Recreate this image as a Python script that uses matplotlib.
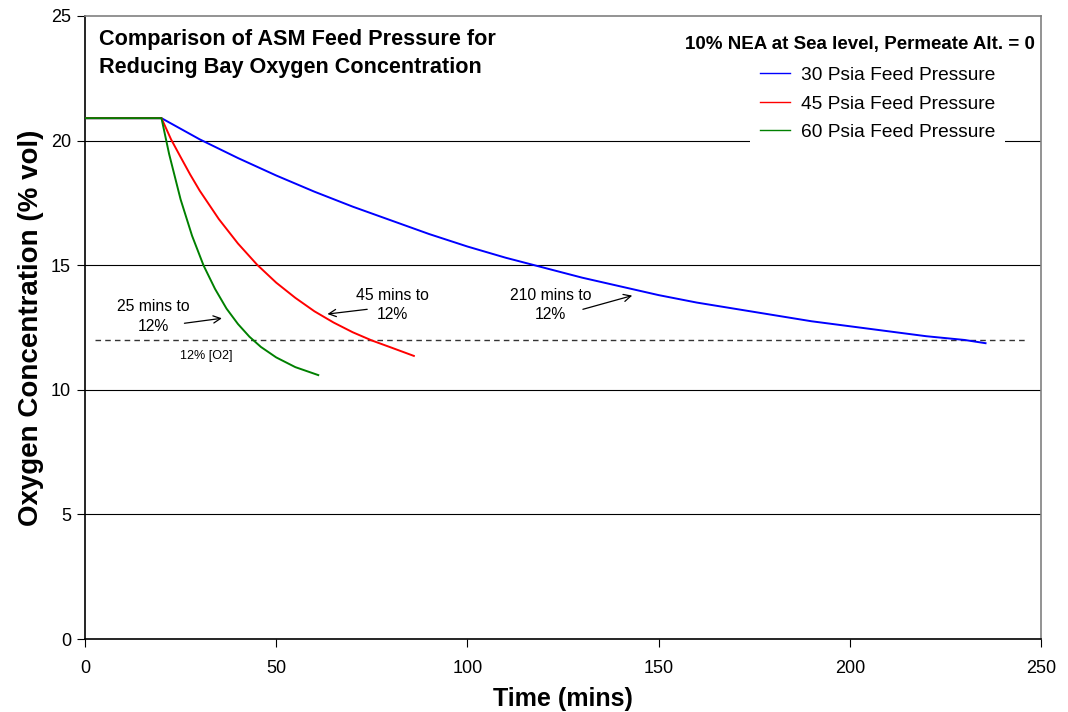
import matplotlib
matplotlib.use("Agg")
import matplotlib.pyplot as plt

plt.rcParams['font.family'] = ['Liberation Sans', 'DejaVu Sans']

# ---- data ----
t_blue = [0, 20, 30, 40, 50, 60, 70, 80, 90, 100, 110, 120, 130, 140, 150,
          160, 170, 180, 190, 200, 210, 220, 230, 235.5]
o2_blue = [20.9, 20.9, 20.05, 19.3, 18.6, 17.95, 17.35, 16.8, 16.25, 15.75, 15.3,
           14.9, 14.5, 14.15, 13.8, 13.5, 13.25, 13.0, 12.75, 12.55, 12.35, 12.15,
           12.0, 11.87]
t_red = [0, 20, 22.5, 25, 27.5, 30, 35, 40, 45, 50, 55, 60, 65, 70, 75, 80, 86]
o2_red = [20.9, 20.9, 20.05, 19.34, 18.64, 17.99, 16.85, 15.87, 15.02, 14.30,
          13.69, 13.15, 12.70, 12.31, 11.98, 11.70, 11.36]
t_green = [0, 20, 22, 25, 28, 31, 34, 37, 40, 43, 46, 50, 55, 61]
o2_green = [20.9, 20.9, 19.46, 17.64, 16.18, 14.99, 14.05, 13.26, 12.64, 12.13,
            11.72, 11.30, 10.91, 10.59]
target_o2 = 12
target_x = [2.5, 246]

series_labels = ['30 Psia Feed Pressure', '45 Psia Feed Pressure', '60 Psia Feed Pressure']
series_colors = ['#0000FF', '#FF0000', '#008000']

x_ticks = [0, 50, 100, 150, 200, 250]
y_ticks = [0, 5, 10, 15, 20, 25]

annotations = [
    # text, text position, arrow tail, arrow head
    ("25 mins to\n12%", (17.8, 12.93), (26.0, 12.67), (35.8, 12.87)),
    ("45 mins to\n12%", (80.5, 13.40), (73.8, 13.23), (63.4, 13.04)),
    ("210 mins to\n12%", (121.8, 13.40), (130.2, 13.23), (143.1, 13.78)),
]

# ---- figure ----
W, H = 1068, 712
AX_L, AX_R, AX_T, AX_B = 85, 1041, 16, 639
fig = plt.figure(figsize=(W / 100, H / 100), dpi=100)
ax = fig.add_axes([AX_L / W, 1 - AX_B / H, (AX_R - AX_L) / W, (AX_B - AX_T) / H])

ax.set_xlim(0, 250)
ax.set_ylim(0, 25)


def fy(py):
    """pixel row -> axes fraction"""
    return (AX_B - py) / (AX_B - AX_T)


def fx(px):
    return (px - AX_L) / (AX_R - AX_L)


for yv in y_ticks[1:-1]:
    ax.axhline(yv, color='black', lw=0.8, zorder=1)

ax.plot(target_x, [target_o2, target_o2], color='#333333', lw=1.0,
        dashes=(4, 3), zorder=2)

lines = []
for tx, ty, lab, col in zip([t_blue, t_red, t_green], [o2_blue, o2_red, o2_green],
                            series_labels, series_colors):
    ln, = ax.plot(tx, ty, color=col, lw=1.4, label=lab, zorder=3)
    lines.append(ln)

for txt, pos, tail, head in annotations:
    ax.text(pos[0], pos[1], txt, ha='center', va='center', fontsize=11.3,
            linespacing=1.4, zorder=4)
    ax.annotate('', xy=head, xytext=tail,
                arrowprops=dict(arrowstyle='->', color='black', lw=0.9,
                                shrinkA=0, shrinkB=0, mutation_scale=13), zorder=4)

ax.text(31.8, 11.37, "12% [O2]", ha='center', va='center', fontsize=9)

# chart title inside plot
ax.text(fx(99), fy(40), "Comparison of ASM Feed Pressure for",
        transform=ax.transAxes, fontsize=15.6, fontweight='bold',
        ha='left', va='center', zorder=6)
ax.text(fx(99), fy(68), "Reducing Bay Oxygen Concentration",
        transform=ax.transAxes, fontsize=15.6, fontweight='bold',
        ha='left', va='center', zorder=6)

ax.text(fx(1035), fy(44), "10% NEA at Sea level, Permeate Alt. = 0",
        transform=ax.transAxes, fontsize=13.5, fontweight='bold',
        ha='right', va='center', zorder=6)

leg = ax.legend(handles=lines, loc='upper left',
                bbox_to_anchor=(fx(750), fy(57)),
                frameon=True, facecolor='white', edgecolor='none', framealpha=1,
                fancybox=False, fontsize=13.8, handlelength=1.6, handletextpad=0.55,
                labelspacing=0.58, borderpad=0.5, borderaxespad=0)
for lh in leg.get_lines():
    lh.set_linewidth(1.0)
leg.set_zorder(5)

# spines
ax.spines['left'].set_color('black')
ax.spines['bottom'].set_color('black')
ax.spines['top'].set_color('#808080')
ax.spines['right'].set_color('#808080')
for s in ax.spines.values():
    s.set_linewidth(1.2)

ax.set_xticks(x_ticks)
ax.set_yticks(y_ticks)
ax.tick_params(direction='out', length=6, width=0.8, labelsize=13, colors='black')
ax.tick_params(axis='x', pad=9)
ax.tick_params(axis='y', pad=4)

ax.set_xlabel("Time (mins)", fontsize=18, fontweight='bold', labelpad=7)
ax.set_ylabel("Oxygen Concentration (% vol)", fontsize=20, fontweight='bold', labelpad=5)

fig.savefig("out.png", dpi=100)
